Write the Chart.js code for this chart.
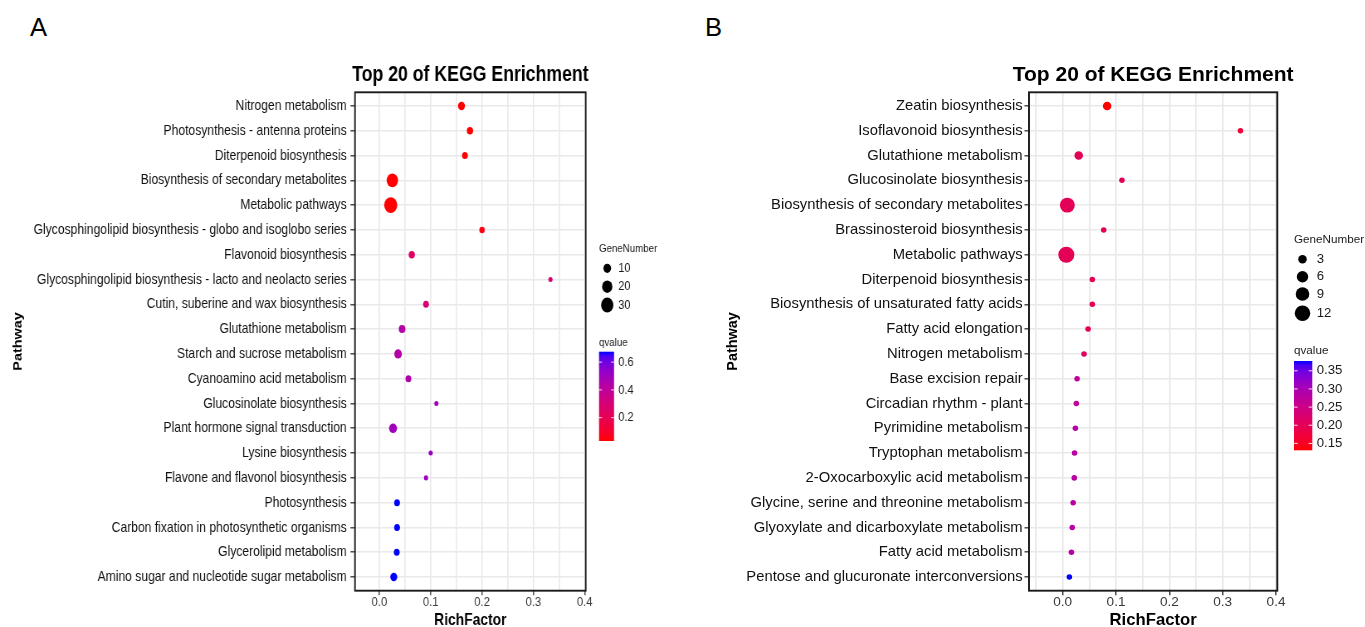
<!DOCTYPE html>
<html>
<head>
<meta charset="utf-8">
<title>Top 20 of KEGG Enrichment</title>
<script src="https://cdn.jsdelivr.net/npm/chart.js@4.4.1/dist/chart.umd.min.js"></script>
<style>
  html, body { margin: 0; padding: 0; background: #fff; width: 1365px; height: 627px; overflow: hidden; }
  .panel-tag { position: absolute; font-family: "Liberation Sans", Arial, sans-serif; font-size: 25.6px; line-height: 25.6px; color: #000; }
  /* panel A is laid out wider and compressed horizontally, as in the published figure */
  #wrapA { position: absolute; left: 0; top: 0; width: 831px; height: 627px; transform: scaleX(0.83); transform-origin: 0 0; }
  #wrapB { position: absolute; left: 690px; top: 0; width: 675px; height: 627px; }
</style>
</head>
<body>
<div class="panel-tag" style="left:30px; top:15px;">A</div>
<div class="panel-tag" style="left:705px; top:15px;">B</div>
<div id="wrapA"><canvas id="chartA"></canvas></div>
<div id="wrapB"><canvas id="chartB"></canvas></div>

<script>
// ---------- Panel A data ----------
const pathwaysA = [
  "Nitrogen metabolism",
  "Photosynthesis - antenna proteins",
  "Diterpenoid biosynthesis",
  "Biosynthesis of secondary metabolites",
  "Metabolic pathways",
  "Glycosphingolipid biosynthesis - globo and isoglobo series",
  "Flavonoid biosynthesis",
  "Glycosphingolipid biosynthesis - lacto and neolacto series",
  "Cutin, suberine and wax biosynthesis",
  "Glutathione metabolism",
  "Starch and sucrose metabolism",
  "Cyanoamino acid metabolism",
  "Glucosinolate biosynthesis",
  "Plant hormone signal transduction",
  "Lysine biosynthesis",
  "Flavone and flavonol biosynthesis",
  "Photosynthesis",
  "Carbon fixation in photosynthetic organisms",
  "Glycerolipid metabolism",
  "Amino sugar and nucleotide sugar metabolism"
];
const richFactorA = [0.160, 0.1765, 0.1667, 0.0253, 0.0222, 0.200, 0.0632, 0.3333, 0.0909, 0.0443,
                     0.0365, 0.0566, 0.1111, 0.0267, 0.100, 0.0909, 0.0345, 0.0345, 0.0339, 0.0281];
const geneNumberA = [8, 6, 5, 25, 34, 4, 6, 2, 5, 7, 10, 5, 2, 11, 2, 2, 5, 5, 5, 8];
const qValueA = [0.032, 0.032, 0.033, 0.035, 0.035, 0.05, 0.25, 0.28, 0.29, 0.44,
                 0.44, 0.45, 0.50, 0.50, 0.51, 0.51, 0.675, 0.675, 0.675, 0.675];
const geneBreaksA = [10, 20, 30];
const qBreaksA = [0.2, 0.4, 0.6];

// ---------- Panel B data ----------
const pathwaysB = [
  "Zeatin biosynthesis",
  "Isoflavonoid biosynthesis",
  "Glutathione metabolism",
  "Glucosinolate biosynthesis",
  "Biosynthesis of secondary metabolites",
  "Brassinosteroid biosynthesis",
  "Metabolic pathways",
  "Diterpenoid biosynthesis",
  "Biosynthesis of unsaturated fatty acids",
  "Fatty acid elongation",
  "Nitrogen metabolism",
  "Base excision repair",
  "Circadian rhythm - plant",
  "Pyrimidine metabolism",
  "Tryptophan metabolism",
  "2-Oxocarboxylic acid metabolism",
  "Glycine, serine and threonine metabolism",
  "Glyoxylate and dicarboxylate metabolism",
  "Fatty acid metabolism",
  "Pentose and glucuronate interconversions"
];
const richFactorB = [0.0833, 0.3333, 0.030, 0.1111, 0.0087, 0.0769, 0.0068, 0.0556, 0.0556, 0.0476,
                     0.040, 0.027, 0.0256, 0.0238, 0.0222, 0.0217, 0.0196, 0.0179, 0.0164, 0.0125];
const geneNumberB = [3, 1, 3, 1, 11, 1, 13, 1, 1, 1, 1, 1, 1, 1, 1, 1, 1, 1, 1, 1];
const qValueB = [0.131, 0.17, 0.20, 0.20, 0.20, 0.20, 0.20, 0.20, 0.20, 0.20,
                 0.21, 0.27, 0.27, 0.28, 0.28, 0.28, 0.28, 0.28, 0.285, 0.377];
const geneBreaksB = [3, 6, 9, 12];
const qBreaksB = [0.15, 0.20, 0.25, 0.30, 0.35];

const xTickLabels = [0.0, 0.1, 0.2, 0.3, 0.4];
const chartTitle = 'Top 20 of KEGG Enrichment';

// ---------- colour scale: red (low q) to blue (high q), interpolated in CIE Lab ----------
const FONT = '"Liberation Sans", Arial, Helvetica, sans-serif';
function toLinear(c) { c /= 255; return c <= 0.04045 ? c / 12.92 : Math.pow((c + 0.055) / 1.055, 2.4); }
function fromLinear(c) { const v = c <= 0.0031308 ? 12.92 * c : 1.055 * Math.pow(c, 1 / 2.4) - 0.055; return Math.max(0, Math.min(255, Math.round(v * 255))); }
const WHITE = [0.95047, 1.0, 1.08883];
function rgbToLab(rgb) {
  const [r, g, b] = rgb.map(toLinear);
  const xyz = [0.4124 * r + 0.3576 * g + 0.1805 * b, 0.2126 * r + 0.7152 * g + 0.0722 * b, 0.0193 * r + 0.1192 * g + 0.9505 * b];
  const f = xyz.map((v, i) => { const t = v / WHITE[i]; return t > 0.008856 ? Math.cbrt(t) : 7.787 * t + 16 / 116; });
  return [116 * f[1] - 16, 500 * (f[0] - f[1]), 200 * (f[1] - f[2])];
}
function labToRgb(lab) {
  const fy = (lab[0] + 16) / 116, fx = fy + lab[1] / 500, fz = fy - lab[2] / 200;
  const inv = t => (t * t * t > 0.008856 ? t * t * t : (t - 16 / 116) / 7.787);
  const [x, y, z] = [inv(fx) * WHITE[0], inv(fy) * WHITE[1], inv(fz) * WHITE[2]];
  const r = 3.2406 * x - 1.5372 * y - 0.4986 * z;
  const g = -0.9689 * x + 1.8758 * y + 0.0415 * z;
  const b = 0.0557 * x - 0.2040 * y + 1.0570 * z;
  return [fromLinear(r), fromLinear(g), fromLinear(b)];
}
const LOW_LAB = rgbToLab([255, 0, 0]);
const HIGH_LAB = rgbToLab([0, 0, 255]);
function gradientColour(q, qMin, qMax) {
  const t = Math.max(0, Math.min(1, (q - qMin) / (qMax - qMin)));
  const lab = LOW_LAB.map((v, i) => v + (HIGH_LAB[i] - v) * t);
  const [r, g, b] = labToRgb(lab);
  return `rgb(${r},${g},${b})`;
}

const isMajor = v => Math.abs(v * 10 - Math.round(v * 10)) < 1e-6;

// ---------- title, legends and panel frame ----------
const panelDecor = {
  id: 'panelDecor',
  afterDraw(chart, args, o) {
    const { ctx, chartArea: a } = chart;
    ctx.save();
    // panel border
    ctx.strokeStyle = '#1a1a1a';
    ctx.lineWidth = 1.9;
    ctx.strokeRect(a.left, a.top, a.right - a.left, a.bottom - a.top);

    // title, centred over the panel and free to run past its edges
    ctx.fillStyle = '#000';
    ctx.font = `bold ${o.titleSize}px ${FONT}`;
    ctx.textAlign = 'center';
    ctx.textBaseline = 'middle';
    ctx.fillText(chartTitle, (a.left + a.right) / 2, 75);

    // GeneNumber legend
    ctx.textAlign = 'left';
    ctx.fillStyle = '#1a1a1a';
    ctx.font = `${o.legendTitleFont}px ${FONT}`;
    ctx.fillText('GeneNumber', o.legendX, o.sizeTitleY);
    ctx.font = `${o.legendLabelFont}px ${FONT}`;
    o.geneBreaks.forEach((g, i) => {
      const y = o.dotY[i];
      ctx.beginPath();
      ctx.arc(o.dotX, y, o.radius(g), 0, Math.PI * 2);
      ctx.fillStyle = '#000';
      ctx.fill();
      ctx.fillStyle = '#1a1a1a';
      ctx.fillText(String(g), o.legendLabelX, y);
    });

    // qvalue colour bar
    ctx.font = `${o.legendTitleFont}px ${FONT}`;
    ctx.fillText('qvalue', o.legendX, o.qTitleY);
    const barL = o.legendX, barR = o.legendX + o.barWidth;
    const grad = ctx.createLinearGradient(0, o.barBottom, 0, o.barTop);
    for (let k = 0; k <= 20; k++) {
      const q = o.qMin + (o.qMax - o.qMin) * k / 20;
      grad.addColorStop(k / 20, gradientColour(q, o.qMin, o.qMax));
    }
    ctx.fillStyle = grad;
    ctx.fillRect(barL, o.barTop, o.barWidth, o.barBottom - o.barTop);
    const yOf = q => o.barBottom - (q - o.qMin) / (o.qMax - o.qMin) * (o.barBottom - o.barTop);
    ctx.strokeStyle = 'rgba(255,255,255,0.85)';
    ctx.lineWidth = 1;
    const tick = o.barWidth / 5;
    ctx.font = `${o.legendLabelFont}px ${FONT}`;
    o.qBreaks.forEach(q => {
      const y = yOf(q);
      ctx.beginPath();
      ctx.moveTo(barL, y); ctx.lineTo(barL + tick, y);
      ctx.moveTo(barR - tick, y); ctx.lineTo(barR, y);
      ctx.stroke();
      ctx.fillStyle = '#1a1a1a';
      ctx.fillText(q.toFixed(o.qDigits), o.legendLabelX, y);
    });
    ctx.restore();
  }
};

function makePanel(canvasId, p) {
  const points = p.rich.map((x, i) => ({ x: x, y: i }));
  const qMin = Math.min(...p.q), qMax = Math.max(...p.q);
  const radius = g => (p.sizeK * Math.sqrt(g) + p.sizeC) / 2;
  return new Chart(document.getElementById(canvasId), {
    type: 'scatter',
    data: {
      datasets: [{
        data: points,
        pointRadius: ctx => radius(p.genes[ctx.dataIndex]),
        pointBackgroundColor: ctx => gradientColour(p.q[ctx.dataIndex], qMin, qMax),
        pointBorderWidth: 0,
        pointHoverRadius: ctx => radius(p.genes[ctx.dataIndex])
      }]
    },
    options: {
      responsive: true,
      maintainAspectRatio: false,
      animation: false,
      events: [],
      layout: { padding: { left: 0, right: p.width - p.plotRight, top: 92.3, bottom: 0 } },
      plugins: {
        legend: { display: false },
        tooltip: { enabled: false },
        title: { display: false },
        panelDecor: {
          titleSize: p.titleSize,
          legendTitleFont: 11.7, legendLabelFont: 13.2,
          legendX: p.legendX, legendLabelX: p.legendLabelX,
          sizeTitleY: p.sizeTitleY, dotX: p.dotX, dotY: p.dotY,
          geneBreaks: p.geneBreaks, radius: radius,
          qTitleY: p.qTitleY, barTop: p.barTop, barBottom: p.barBottom, barWidth: p.barWidth,
          qBreaks: p.qBreaks, qDigits: p.qDigits, qMin: qMin, qMax: qMax
        }
      },
      scales: {
        x: {
          type: 'linear',
          position: 'bottom',
          min: p.xMin, max: p.xMax,
          afterFit: s => { s.height = 627 - 590.7; },
          border: { display: false },
          grid: {
            color: '#e9e9e9',
            lineWidth: 1.6,
            tickLength: 4.5,
            tickWidth: 1.3,
            tickColor: c => (isMajor(c.tick.value) ? '#333' : 'rgba(0,0,0,0)')
          },
          ticks: {
            stepSize: 0.05,
            includeBounds: false,
            autoSkip: false,
            maxRotation: 0, minRotation: 0,
            padding: 0,
            color: '#3a3a3a',
            font: { family: FONT, size: 13.6, lineHeight: 1.05 },
            callback: v => (isMajor(v) && v > -1e-9 && xTickLabels.some(t => Math.abs(t - v) < 1e-6) ? v.toFixed(1) : '')
          },
          title: {
            display: true,
            text: 'RichFactor',
            color: '#000',
            font: { family: FONT, size: 16.7, weight: 'bold', lineHeight: 0.84 },
            padding: { top: 0, bottom: 0 }
          }
        },
        y: {
          type: 'linear',
          position: 'left',
          reverse: true,
          min: -0.55, max: 19.55,
          afterFit: s => { s.width = p.plotLeft; },
          border: { display: false },
          grid: {
            color: '#e9e9e9',
            lineWidth: 1.6,
            tickLength: p.yTickLen,
            tickWidth: 1.3,
            tickColor: '#333'
          },
          ticks: {
            stepSize: 1,
            includeBounds: false,
            autoSkip: false,
            padding: p.yTickPad,
            color: '#111',
            font: { family: FONT, size: p.labelFont },
            callback: v => p.labels[v] ?? ''
          },
          title: {
            display: true,
            text: 'Pathway',
            color: '#000',
            font: { family: FONT, size: 14.4, weight: 'bold', lineHeight: 1.2 },
            padding: { top: p.pathwayX - 8.64, bottom: 0 }
          }
        }
      }
    },
    plugins: [panelDecor]
  });
}

makePanel('chartA', {
  labels: pathwaysA, rich: richFactorA, genes: geneNumberA, q: qValueA,
  geneBreaks: geneBreaksA, qBreaks: qBreaksA, qDigits: 1,
  width: 831, plotLeft: 427.7, plotRight: 705.7,
  xMin: -0.0474, xMax: 0.402, titleSize: 21.3,
  labelFont: 14.6, yTickLen: 5.5, yTickPad: 4.5, pathwayX: 22,
  sizeK: 2.42, sizeC: 1.6,
  legendX: 721.7, legendLabelX: 745, sizeTitleY: 249, dotX: 731.6, dotY: [268.3, 286.7, 305],
  qTitleY: 342.3, barTop: 351.7, barBottom: 441, barWidth: 18.1
});

makePanel('chartB', {
  labels: pathwaysB, rich: richFactorB, genes: geneNumberB, q: qValueB,
  geneBreaks: geneBreaksB, qBreaks: qBreaksB, qDigits: 2,
  width: 675, plotLeft: 339, plotRight: 587.3,
  xMin: -0.0632, xMax: 0.4024, titleSize: 21,
  labelFont: 14.8, yTickLen: 4.5, yTickPad: 1.8, pathwayX: 43,
  sizeK: 4.04, sizeC: 1.5,
  legendX: 604, legendLabelX: 626.7, sizeTitleY: 240, dotX: 612.5, dotY: [259.3, 276.7, 294, 313.3],
  qTitleY: 351, barTop: 361, barBottom: 450.3, barWidth: 18.3
});
</script>
</body>
</html>
